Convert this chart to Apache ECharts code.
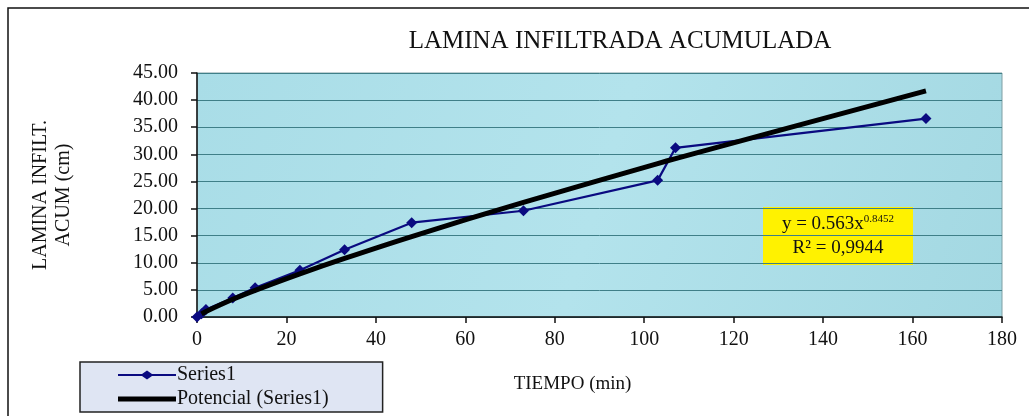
<!DOCTYPE html>
<html>
<head>
<meta charset="utf-8">
<script src="https://cdn.jsdelivr.net/npm/echarts@6/dist/echarts.min.js"></script>
<style>
  html, body { margin: 0; padding: 0; background: #fff; }
  #chart { width: 1029px; height: 416px; }
</style>
</head>
<body>
<div id="chart"></div>
<script>
// Infiltration test: elapsed time (min) vs cumulative infiltrated depth (cm)
const tiempo = [0, 1, 2, 8, 13, 23, 33, 48, 73, 103, 107, 163];
const lamina = [0, 0.6, 1.4, 3.5, 5.4, 8.6, 12.4, 17.4, 19.6, 25.2, 31.2, 36.6];

// Power-law trendline y = a * x^b, as reported on the chart
const coefA = 0.563;
const coefB = 0.8452;
const rSquared = '0,9944';

const xTicks = { min: 0, max: 180, interval: 20 };
const yTicks = { min: 0, max: 45, interval: 5 };

const seriesName = 'Series1';
const trendName = 'Potencial (Series1)';

const observed = tiempo.map((t, i) => [t, lamina[i]]);
const trend = tiempo.filter(t => t > 0).map(t => [t, coefA * Math.pow(t, coefB)]);

const serif = '"Liberation Serif", "DejaVu Serif", serif';

// Legend glyphs: thin line with a diamond, and a thick plain bar
const iconLineDiamond = 'path://M0,3.6 L24,3.6 L29,0 L34,3.6 L58,3.6 L58,5.4 L34,5.4 L29,9 L24,5.4 L0,5.4 Z';
const iconThickLine = 'path://M0,0 L58,0 L58,5 L0,5 Z';

const chart = echarts.init(document.getElementById('chart'));
chart.setOption({
  animation: false,
  backgroundColor: '#ffffff',
  title: {
    text: 'LAMINA INFILTRADA ACUMULADA',
    left: 615,
    top: 24,
    textAlign: 'center',
    textStyle: { fontFamily: serif, fontSize: 25, fontWeight: 'normal', color: '#111' }
  },
  grid: {
    left: 197, right: 27, top: 73, bottom: 99,
    show: true,
    backgroundColor: {
      type: 'linear', x: 0, y: 0, x2: 1, y2: 1,
      colorStops: [
        { offset: 0, color: '#a9dde7' },
        { offset: 0.5, color: '#b3e3ec' },
        { offset: 1, color: '#a3d8e2' }
      ]
    },
    borderColor: '#7f9fa4',
    borderWidth: 1
  },
  legend: {
    orient: 'vertical',
    left: 80,
    top: 362,
    itemGap: 4,
    itemWidth: 58,
    itemHeight: 9,
    symbolKeepAspect: true,
    padding: [3, 54, 3, 38],
    backgroundColor: '#dfe5f3',
    borderColor: '#222',
    borderWidth: 1.5,
    borderRadius: 0,
    textStyle: { fontFamily: serif, fontSize: 20, color: '#111', padding: [0, 0, 0, -4] },
    data: [
      { name: seriesName, icon: iconLineDiamond },
      { name: trendName, icon: iconThickLine }
    ]
  },
  xAxis: {
    type: 'value',
    min: xTicks.min, max: xTicks.max, interval: xTicks.interval,
    name: 'TIEMPO (min)',
    nameLocation: 'middle',
    nameGap: 58,
    nameTextStyle: { fontFamily: serif, fontSize: 19, color: '#111', padding: [0, 54, 0, 0] },
    axisLine: { onZero: false, lineStyle: { color: '#111', width: 1.5 } },
    axisTick: { show: true, inside: false, length: 6, lineStyle: { color: '#111', width: 1.5 } },
    axisLabel: { fontFamily: serif, fontSize: 20, color: '#111', margin: 13 },
    splitLine: { show: false }
  },
  yAxis: {
    type: 'value',
    min: yTicks.min, max: yTicks.max, interval: yTicks.interval,
    name: 'LAMINA INFILT.\nACUM (cm)',
    nameLocation: 'middle',
    nameRotate: 90,
    nameGap: 122,
    nameTextStyle: { fontFamily: serif, fontSize: 20, color: '#111', lineHeight: 23, align: 'center' },
    axisLine: { show: true, lineStyle: { color: '#111', width: 1.5 } },
    axisTick: { show: true, inside: false, length: 6, lineStyle: { color: '#111', width: 1.5 } },
    axisLabel: {
      fontFamily: serif, fontSize: 20, color: '#111', margin: 19,
      formatter: v => v.toFixed(2)
    },
    splitLine: { show: true, lineStyle: { color: '#3f7f88', width: 1 } }
  },
  series: [
    {
      name: seriesName,
      type: 'line',
      data: observed,
      symbol: 'diamond',
      symbolSize: 11,
      color: '#0a0a80',
      lineStyle: { color: '#0a0a80', width: 2.2 },
      itemStyle: { color: '#0a0a80' },
      z: 3
    },
    {
      name: trendName,
      type: 'line',
      data: trend,
      symbol: 'none',
      smooth: 0.3,
      color: '#000',
      lineStyle: { color: '#000', width: 5 },
      z: 4
    }
  ],
  graphic: [
    {
      type: 'rect',
      shape: { x: 8, y: 8, width: 1100, height: 500 },
      style: { fill: null, stroke: '#111', lineWidth: 1.5 },
      silent: true,
      z: 0
    },
    {
      type: 'group',
      left: 763,
      top: 207,
      z: 10,
      children: [
        {
          type: 'rect',
          shape: { x: 0, y: 0, width: 150, height: 58 },
          style: { fill: '#fff200', stroke: null }
        },
        {
          type: 'text',
          x: 75, y: 17,
          style: {
            text: '{b|y = ' + coefA + 'x}{s|' + coefB + '}',
            align: 'center', verticalAlign: 'middle',
            rich: {
              b: { fontFamily: serif, fontSize: 19, fill: '#111' },
              s: { fontFamily: serif, fontSize: 11, fill: '#111', verticalAlign: 'top', padding: [0, 0, 10, 0] }
            }
          }
        },
        {
          type: 'text',
          x: 75, y: 41,
          style: {
            text: 'R² = ' + rSquared,
            align: 'center', verticalAlign: 'middle',
            fontFamily: serif, fontSize: 19, fill: '#111'
          }
        }
      ]
    }
  ]
});
</script>
</body>
</html>
